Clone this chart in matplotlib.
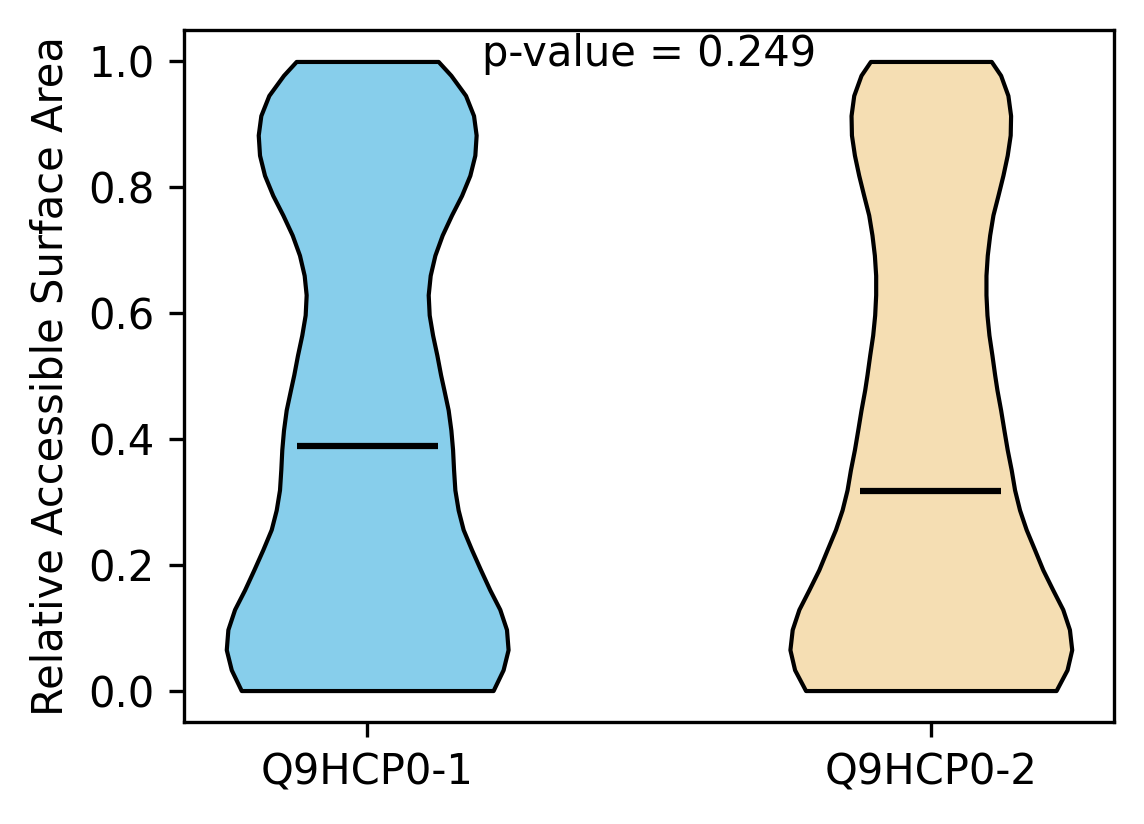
import matplotlib
matplotlib.use("Agg")
import matplotlib.pyplot as plt
import numpy as np

# groups and summary values
groups = ["Q9HCP0-1", "Q9HCP0-2"]
medians = [0.389, 0.317]
p_value = 0.249
colors = ["skyblue", "wheat"]

# density profiles (relative half-width at each RSA value)
rsa_grid = [0.000, 0.033, 0.065, 0.097, 0.129, 0.160, 0.192, 0.224, 0.256, 0.287,
            0.319, 0.351, 0.383, 0.414, 0.446, 0.478, 0.502, 0.533, 0.565, 0.597,
            0.629, 0.660, 0.692, 0.724, 0.756, 0.787, 0.819, 0.851, 0.883, 0.914,
            0.946, 0.978, 1.000]

dens_1 = [126.1, 136.1, 141.1, 139.5, 132.8, 122.8, 113.5, 104.5, 96.1, 91.1,
          87.8, 86.5, 85.5, 83.8, 81.1, 76.8, 73.5, 69.8, 65.5, 62.1,
          61.1, 63.1, 67.8, 75.1, 84.5, 94.5, 102.8, 107.8, 109.1, 106.5,
          98.5, 83.8, 71.1]

dens_2 = [125.6, 136.6, 141.3, 139.0, 132.3, 122.3, 112.3, 104.0, 95.6, 89.0,
          84.0, 80.6, 76.6, 73.3, 70.0, 66.3, 64.0, 61.3, 58.3, 56.3,
          55.3, 55.3, 56.6, 59.0, 62.3, 67.3, 72.3, 76.6, 79.6, 80.0,
          77.3, 70.0, 60.6]

profiles = [(rsa_grid, dens_1), (rsa_grid, dens_2)]

vpstats = []
for (coords, vals), med in zip(profiles, medians):
    vpstats.append({
        "coords": np.array(coords),
        "vals": np.array(vals),
        "mean": med,
        "median": med,
        "min": min(coords),
        "max": max(coords),
    })

fig = plt.figure(figsize=(1144 / 300, 824 / 300), dpi=300)
ax = fig.add_axes([184 / 1144, 1 - 722 / 824, 930 / 1144, 692 / 824])

positions = [1, 2]
parts = ax.violin(vpstats, positions=positions, widths=0.5,
                  showmeans=False, showextrema=False, showmedians=False)
for body, c in zip(parts["bodies"], colors):
    body.set_facecolor(c)
    body.set_edgecolor("black")
    body.set_linewidth(1)
    body.set_alpha(1)
    body.set_joinstyle("round")

# median lines
for pos, med in zip(positions, medians):
    ax.hlines(med, pos - 0.125, pos + 0.125, color="black", linewidth=1.5)

ax.set_xticks(positions)
ax.set_xticklabels(groups)
ax.set_ylabel("Relative Accessible Surface Area")
ax.set_xlim(0.675, 2.325)
ax.set_ylim(-0.05, 1.05)

ax.text(1.5, 0.993, f"p-value = {p_value:.3f}", ha="center", va="baseline",
        fontsize=10)

fig.savefig("out.png", dpi=300)
